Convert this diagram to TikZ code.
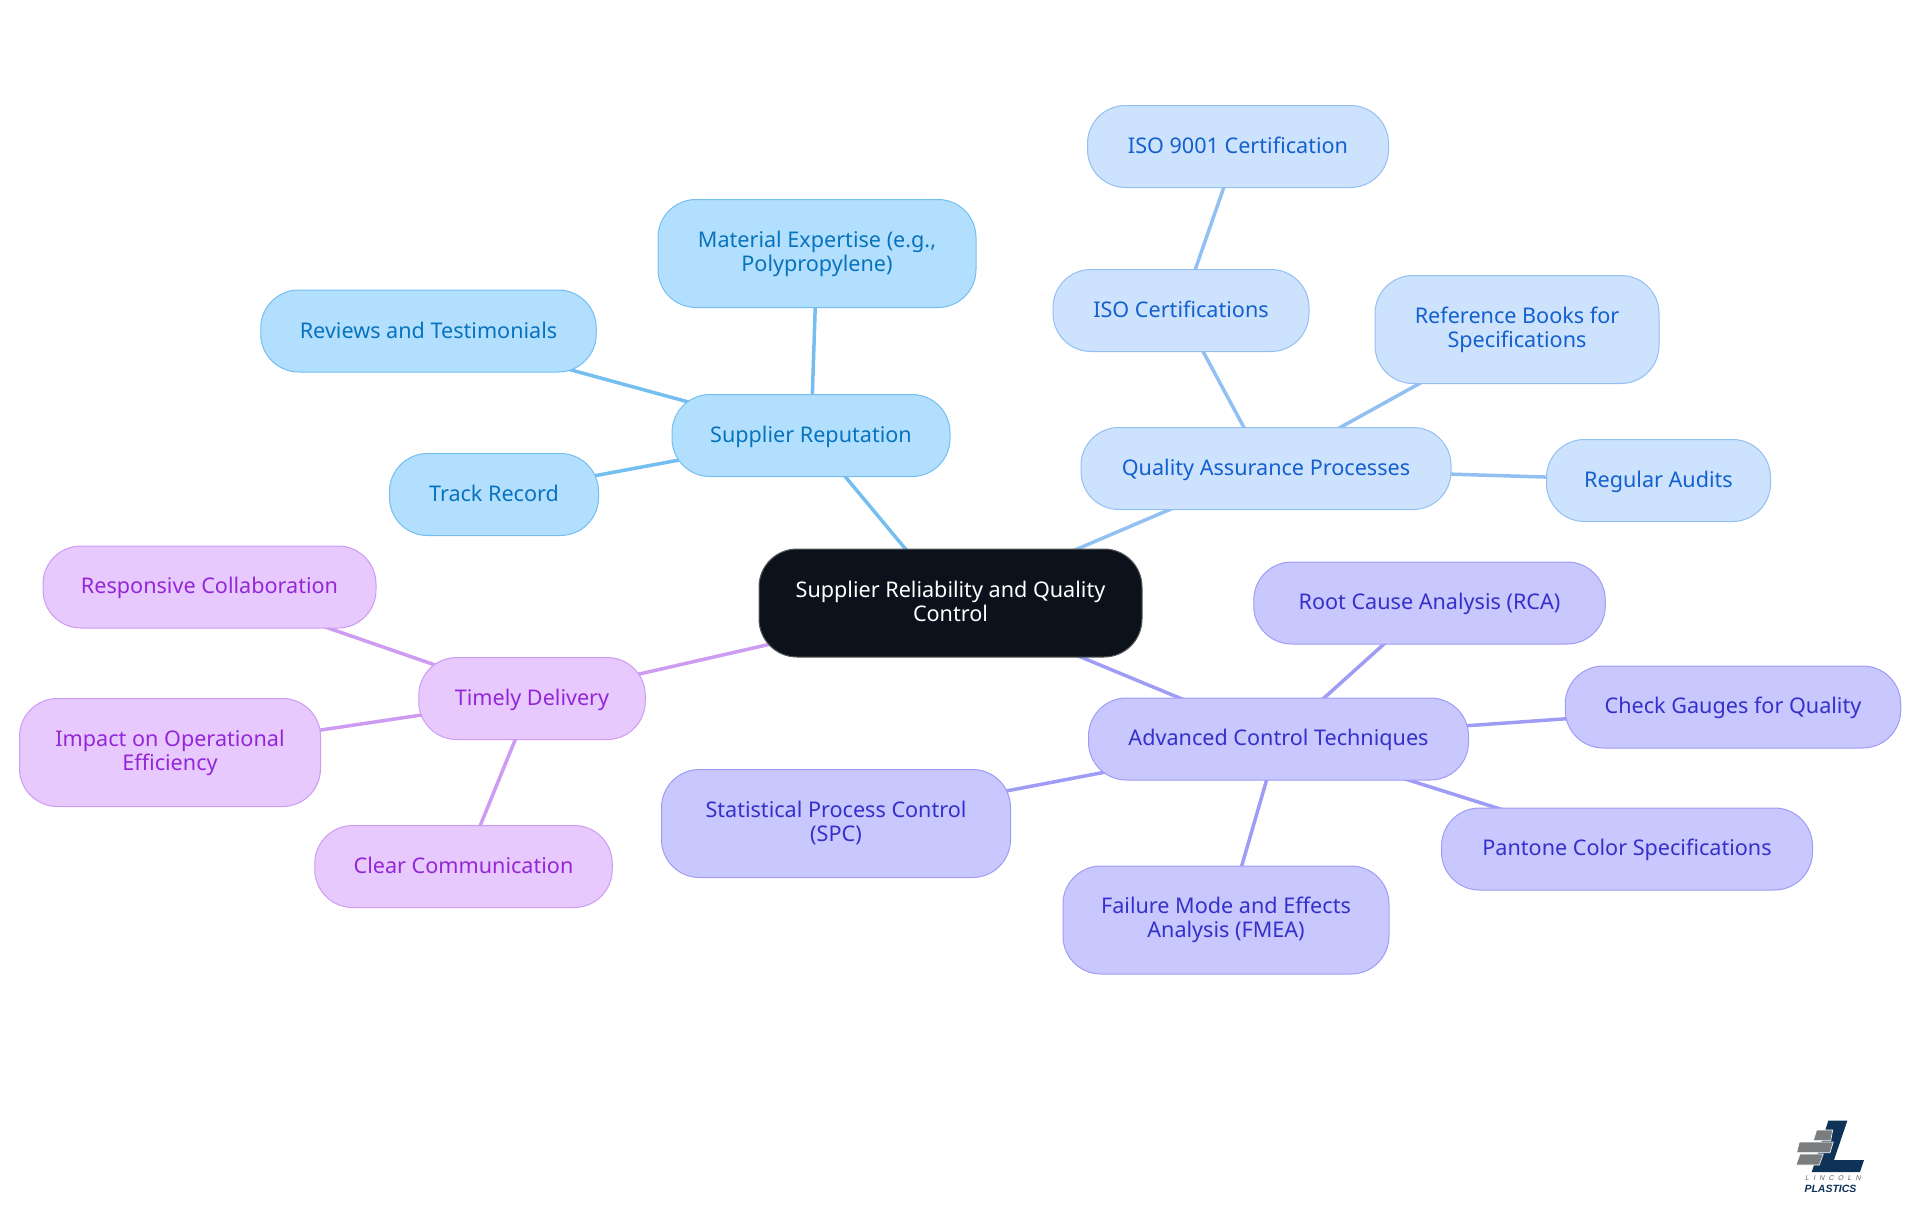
\documentclass[tikz,border=0pt]{standalone}
\usepackage{fontspec}
\setmainfont{Noto Sans}
\newfontfamily\logofont{Liberation Sans}
\usetikzlibrary{backgrounds}
\definecolor{rootfill}{HTML}{0B121B}
\definecolor{repfill}{HTML}{B3DFFF}
\definecolor{repline}{HTML}{74BEF0}
\definecolor{reptext}{HTML}{0873BD}
\definecolor{qualfill}{HTML}{CCE2FD}
\definecolor{qualline}{HTML}{93C0F2}
\definecolor{qualtext}{HTML}{1460CE}
\definecolor{ctrlfill}{HTML}{C8C8FE}
\definecolor{ctrlline}{HTML}{9F9CF5}
\definecolor{ctrltext}{HTML}{3430C9}
\definecolor{timefill}{HTML}{E8C9FE}
\definecolor{timeline}{HTML}{CD9CF2}
\definecolor{timetext}{HTML}{9327D8}
\definecolor{logoblue}{HTML}{0F3257}
\definecolor{logogray}{HTML}{7A7C7E}
\newcommand{\nodestrut}{\vrule height 19pt depth 4.4pt width 0pt}
\tikzset{main node/.style={rectangle,rounded corners=38pt,draw,line width=1pt,align=center,
            font=\fontsize{21.6}{24}\selectfont,inner sep=0pt,minimum height=82pt,
            execute at begin node=\nodestrut,execute at end node=\nodestrut},
         root node/.style={main node,fill=rootfill,draw=black!65,text=white},
         rep node/.style={main node,fill=repfill,draw=repline,text=reptext},
         qual node/.style={main node,fill=qualfill,draw=qualline,text=qualtext},
         ctrl node/.style={main node,fill=ctrlfill,draw=ctrlline,text=ctrltext},
         time node/.style={main node,fill=timefill,draw=timeline,text=timetext},
         tall/.style={minimum height=108pt},
         rep edge/.style={draw=repline,line width=3.5pt},
         qual edge/.style={draw=qualline,line width=3.5pt},
         ctrl edge/.style={draw=ctrlline,line width=3.5pt},
         time edge/.style={draw=timeline,line width=3.5pt},
         logo bar/.style={fill=logogray,draw=white,line width=0.6pt},
         logo text/.style={inner sep=0pt}
}
\begin{document}
\begin{tikzpicture}[x=1pt,y=-1pt]
\useasboundingbox (0,0) rectangle (1920,1215);
% centre
\node [root node,tall,minimum width=383pt] (root) at (950.5,603) {Supplier Reliability and Quality\\Control};
% reputation
\node [rep node,minimum width=278pt] (rep) at (811,435.5) {Supplier Reputation};
\node [rep node,minimum width=209pt] (track) at (494,494.5) {Track Record};
\node [rep node,minimum width=335.5pt] (reviews) at (428.5,331) {Reviews and Testimonials};
\node [rep node,tall,minimum width=318pt] (material) at (817,253.5) {Material Expertise (e.g.,\\Polypropylene)};
% quality
\node [qual node,minimum width=370pt] (qa) at (1266,468.5) {Quality Assurance Processes};
\node [qual node,minimum width=256pt] (iso) at (1181,310.5) {ISO Certifications};
\node [qual node,minimum width=301pt] (iso9001) at (1238,146.5) {ISO 9001 Certification};
\node [qual node,tall,minimum width=284pt] (books) at (1517,329.5) {Reference Books for\\Specifications};
\node [qual node,minimum width=224pt] (audits) at (1658.5,480.5) {Regular Audits};
% control
\node [ctrl node,minimum width=380pt] (adv) at (1278.5,739) {Advanced Control Techniques};
\node [ctrl node,minimum width=351.5pt] (rca) at (1429.5,603) {Root Cause Analysis (RCA)};
\node [ctrl node,minimum width=335.5pt] (gauges) at (1733,707) {Check Gauges for Quality};
\node [ctrl node,minimum width=371pt] (pantone) at (1627,849) {Pantone Color Specifications};
\node [ctrl node,tall,minimum width=326pt] (fmea) at (1226,920) {Failure Mode and Effects\\Analysis (FMEA)};
\node [ctrl node,tall,minimum width=349pt] (spc) at (836,823.5) {Statistical Process Control\\(SPC)};
% delivery
\node [time node,minimum width=226.5pt] (timely) at (532,698.5) {Timely Delivery};
\node [time node,minimum width=333pt] (collab) at (209.5,587) {Responsive Collaboration};
\node [time node,tall,minimum width=301pt] (impact) at (170,752.5) {Impact on Operational\\Efficiency};
\node [time node,minimum width=297.5pt] (comm) at (463.5,866.5) {Clear Communication};
\begin{scope}[on background layer]
\draw [rep edge] (root.center) -- (rep.center);
\draw [rep edge] (rep.center) -- (track.center);
\draw [rep edge] (rep.center) -- (reviews.center);
\draw [rep edge] (rep.center) -- (material.center);
\draw [qual edge] (root.center) -- (qa.center);
\draw [qual edge] (qa.center) -- (iso.center);
\draw [qual edge] (iso.center) -- (iso9001.center);
\draw [qual edge] (qa.center) -- (books.center);
\draw [qual edge] (qa.center) -- (audits.center);
\draw [ctrl edge] (root.center) -- (adv.center);
\draw [ctrl edge] (adv.center) -- (rca.center);
\draw [ctrl edge] (adv.center) -- (gauges.center);
\draw [ctrl edge] (adv.center) -- (pantone.center);
\draw [ctrl edge] (adv.center) -- (fmea.center);
\draw [ctrl edge] (adv.center) -- (spc.center);
\draw [time edge] (root.center) -- (timely.center);
\draw [time edge] (timely.center) -- (collab.center);
\draw [time edge] (timely.center) -- (impact.center);
\draw [time edge] (timely.center) -- (comm.center);
\end{scope}
% logo
\fill [logoblue] (1828.3,1120.7) -- (1847.3,1120.7) -- (1834,1160) -- (1864,1160) -- (1860,1172) -- (1811.7,1172) -- cycle;
\path [logo bar] (1816.7,1130) -- (1832.7,1130) -- (1830.7,1140.7) -- (1813.3,1140.7) -- cycle;
\path [logo bar] (1799.3,1142) -- (1833.3,1142) -- (1830,1152.7) -- (1796.7,1152.7) -- cycle;
\path [logo bar] (1800,1154) -- (1823.3,1154) -- (1819.3,1165) -- (1796,1165) -- cycle;
\node [logo text,text=logogray!80!black,font=\logofont\fontsize{7}{7}\selectfont\addfontfeature{FakeSlant=0.2,LetterSpace=60}] (lincoln) at (1833,1178.5) {LINCOLN};
\node [logo text,text=logoblue,font=\logofont\bfseries\itshape\fontsize{10.5}{10.5}\selectfont] (plastics) at (1830.5,1189) {PLASTICS};
\end{tikzpicture}
\end{document}
